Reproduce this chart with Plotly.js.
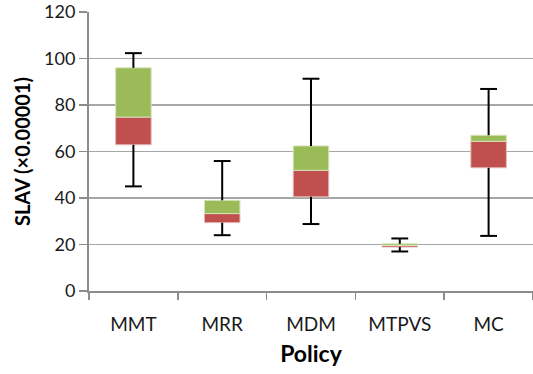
<!DOCTYPE html>
<html>
<head>
<meta charset="utf-8">
<script src="https://cdn.plot.ly/plotly-3.0.1.min.js"></script>
<style>html,body{margin:0;padding:0;background:#fff;}#chart{width:533px;height:374px;}</style>
</head>
<body>
<div id="chart"></div>
<script>
const categories = ["MMT", "MRR", "MDM", "MTPVS", "MC"];
const whiskerMin = [45.0, 24.0, 28.8, 17.0, 23.7];
const q1 = [62.9, 29.4, 40.5, 18.9, 53.0];
const median = [74.8, 33.3, 51.9, 19.6, 64.4];
const q3 = [96.0, 39.0, 62.4, 20.3, 67.0];
const whiskerMax = [102.3, 55.9, 91.3, 22.6, 86.9];
const yTicks = [0, 20, 40, 60, 80, 100, 120];

const FONT = "Lato, 'Open Sans', sans-serif";

// whisker line segments built from the arrays
const wx = [], wy = [];
categories.forEach((c, i) => {
  wx.push(c, c, null, c, c, null);
  wy.push(q3[i], whiskerMax[i], null, q1[i], whiskerMin[i], null);
});

const traces = [
  {
    type: "scatter", mode: "lines", x: wx, y: wy,
    line: {color: "#000", width: 2}, hoverinfo: "skip", showlegend: false, cliponaxis: false
  },
  {
    type: "bar", x: categories, base: q1,
    y: median.map((m, i) => m - q1[i]),
    width: 0.4, marker: {color: "#C0504D", line: {color: "#E6B9B8", width: 1}},
    showlegend: false
  },
  {
    type: "bar", x: categories, base: median,
    y: q3.map((q, i) => q - median[i]),
    width: 0.4, marker: {color: "#9BBB59", line: {color: "#D7E4BD", width: 1}},
    showlegend: false
  },
  {
    type: "scatter", mode: "markers",
    x: categories.concat(categories),
    y: whiskerMax.concat(whiskerMin),
    marker: {symbol: "line-ew", size: 12, line: {color: "#000", width: 2}},
    hoverinfo: "skip", showlegend: false, cliponaxis: false
  }
];

const layout = {
  width: 533, height: 374,
  margin: {l: 89, r: 0, t: 12, b: 83},
  paper_bgcolor: "#fff", plot_bgcolor: "#fff",
  barmode: "overlay",
  font: {family: FONT, color: "#1a1a1a", size: 18},
  xaxis: {
    type: "category",
    tickson: "boundaries",
    ticks: "outside", ticklen: 7, tickwidth: 1.5, tickcolor: "#8c8c8c",
    showline: true, linecolor: "#8c8c8c", linewidth: 2,
    showgrid: false, zeroline: false,
    ticklabelstandoff: 15,
    tickfont: {family: FONT, size: 19, color: "#1a1a1a"},
    title: {text: "<b>Policy</b>", font: {family: FONT, size: 23, color: "#000"}, standoff: 12}
  },
  yaxis: {
    range: [0, 120],
    tickvals: yTicks,
    ticks: "outside", ticklen: 8, tickwidth: 1.5, tickcolor: "#8c8c8c",
    showline: true, linecolor: "#8c8c8c", linewidth: 2,
    showgrid: true, gridcolor: "#a6a6a6", gridwidth: 1.3,
    zeroline: false,
    tickfont: {family: FONT, size: 18, color: "#1a1a1a"},
    title: {text: "<b>SLAV (×0.00001)</b>", font: {family: FONT, size: 20, color: "#000"}, standoff: 8}
  }
};

Plotly.newPlot("chart", traces, layout, {displayModeBar: false, staticPlot: true});
</script>
</body>
</html>
